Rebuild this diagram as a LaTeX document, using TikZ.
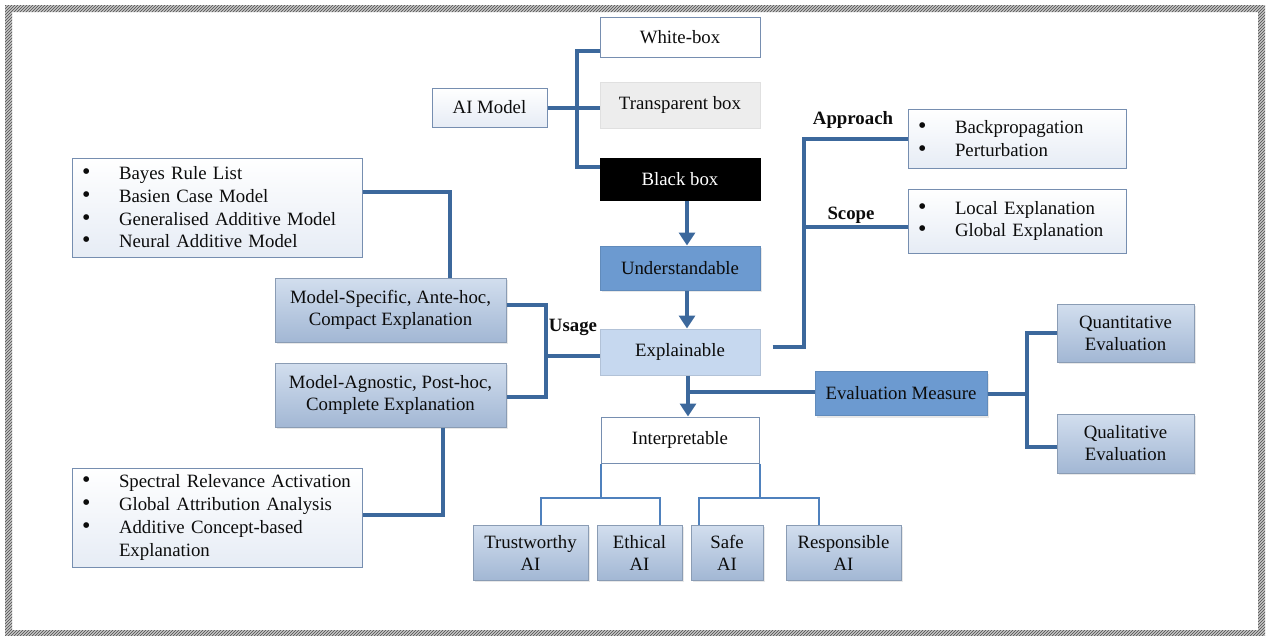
\documentclass[tikz,border=0pt]{standalone}
\usepackage{fontspec}
\setmainfont{Liberation Serif}
\usetikzlibrary{arrows.meta,patterns,shadows}

\definecolor{linkblue}{RGB}{60,104,156}
\definecolor{thinblue}{RGB}{79,129,189}
\definecolor{edgeblue}{RGB}{118,142,176}
\definecolor{steeltop}{RGB}{210,222,238}
\definecolor{steelbot}{RGB}{162,183,212}
\definecolor{midblue}{RGB}{108,154,208}
\definecolor{paleblue}{RGB}{198,216,239}
\definecolor{listbot}{RGB}{230,236,245}
\definecolor{ink}{RGB}{12,12,12}

\newcommand{\bulletline}[1]{\makebox[37pt][l]{\fontsize{24}{22.7}\selectfont\textbullet}#1}
\newcommand{\indentline}[1]{\makebox[37pt][l]{}#1}

\begin{document}
\begin{tikzpicture}[x=1pt,y=-1pt,
  every node/.style={font=\fontsize{18.8}{22.7}\selectfont, text=ink},
  base/.style={rectangle, inner sep=0pt, draw=edgeblue, line width=1pt},
  plainbox/.style={base, fill=white},
  greybox/.style={base, draw=black!12, fill=black!7},
  darkbox/.style={base, draw=black, fill=black, text=white},
  softbox/.style={base, top color=white, bottom color=listbot},
  listbox/.style={softbox, align=left, inner xsep=10pt},
  steelbox/.style={base, draw=steelbot!85!black, top color=steeltop, bottom color=steelbot,
    align=center, font=\fontsize{18.8}{22}\selectfont,
    drop shadow={opacity=0.18, shadow xshift=2pt, shadow yshift=-2pt}},
  bluebox/.style={base, draw=midblue!90!black, fill=midblue,
    drop shadow={opacity=0.18, shadow xshift=2pt, shadow yshift=-2pt}},
  palebox/.style={base, draw=paleblue!90!black, fill=paleblue},
  tag/.style={font=\fontsize{18.8}{22.7}\selectfont\bfseries},
  conn/.style={draw=linkblue, line width=4pt},
  flow/.style={conn, -{Triangle[width=16pt,length=13pt]}},
  twig/.style={draw=thinblue, line width=2pt}]

\useasboundingbox (0,0) rectangle (1266,635);

% hatched frame
\fill[gray!45, even odd rule] (5,5) rectangle (1265,636) (12,12) rectangle (1258,630);
\fill[pattern=north east lines, pattern color=black!70, even odd rule]
  (5,5) rectangle (1265,636) (12,12) rectangle (1258,630);

% model types
\node[softbox, minimum width=115pt, minimum height=39pt] (aimodel) at (489.5,107.5) {AI Model};
\node[plainbox, minimum width=160pt, minimum height=40pt] (white) at (680,37) {White-box};
\node[greybox, minimum width=160pt, minimum height=46pt] (transp) at (680,105) {Transparent box};
\node[darkbox, minimum width=160pt, minimum height=42pt] (black) at (680,179) {Black box};

% main chain
\node[bluebox, minimum width=160pt, minimum height=44pt] (underst) at (680,268) {Understandable};
\node[palebox, minimum width=160pt, minimum height=46pt] (expl) at (680,352) {Explainable};
\node[plainbox, minimum width=158pt, minimum height=46pt] (interp) at (680,440) {Interpretable};

% approach and scope
\node[listbox, minimum width=218pt, minimum height=59pt, text width=198pt] (appbox) at (1017,138.5)
  {\bulletline{Backpropagation}\\\bulletline{Perturbation}};
\node[listbox, minimum width=218pt, minimum height=64pt, text width=198pt] (scopebox) at (1017,221)
  {\bulletline{Local Explanation}\\\bulletline{Global Explanation}};
\node[tag] (approachlbl) at (853,120) {Approach};
\node[tag] (scopelbl) at (851,215) {Scope};

% evaluation
\node[bluebox, minimum width=172pt, minimum height=44pt] (evalm) at (901,393.5) {Evaluation Measure};
\node[steelbox, minimum width=137pt, minimum height=58pt] (quant) at (1125.5,333)
  {Quantitative\\Evaluation};
\node[steelbox, minimum width=137pt, minimum height=59pt] (qual) at (1125.5,443.5)
  {Qualitative\\Evaluation};

% usage branch
\node[listbox, minimum width=290pt, minimum height=99pt, text width=270pt] (bayes) at (217,207.5)
  {\bulletline{Bayes Rule List}\\\bulletline{Basien Case Model}\\
   \bulletline{Generalised Additive Model}\\\bulletline{Neural Additive Model}};
\node[steelbox, minimum width=231pt, minimum height=64pt] (mspec) at (390.5,310)
  {Model-Specific, Ante-hoc,\\Compact Explanation};
\node[steelbox, minimum width=231pt, minimum height=64pt] (magn) at (390.5,395)
  {Model-Agnostic, Post-hoc,\\Complete Explanation};
\node[listbox, minimum width=290pt, minimum height=99pt, text width=270pt] (spectral) at (217,517.5)
  {\bulletline{Spectral Relevance Activation}\\\bulletline{Global Attribution Analysis}\\
   \bulletline{Additive Concept-based}\\\indentline{Explanation}};
\node[tag] (usagelbl) at (573,327) {Usage};

% outcomes
\node[steelbox, minimum width=115pt, minimum height=55pt] (trust) at (530.5,552.5) {Trustworthy\\AI};
\node[steelbox, minimum width=85pt, minimum height=55pt] (ethical) at (639.5,552.5) {Ethical\\AI};
\node[steelbox, minimum width=72pt, minimum height=55pt] (safe) at (727,552.5) {Safe\\AI};
\node[steelbox, minimum width=115pt, minimum height=55pt] (resp) at (843.5,552.5) {Responsible\\AI};

% AI model fan-out
\draw[conn] (aimodel.east) -- (aimodel.east -| transp.west);
\draw[conn] ([yshift=-14pt]white.west) -- ++(-23,0) |- ([yshift=12pt]black.west);

% main chain arrows
\draw[flow] ([xshift=7pt]black.south) -- ([xshift=7pt]underst.north);
\draw[flow] ([xshift=7pt]underst.south) -- ([xshift=7pt]expl.north);
\draw[flow] ([xshift=8pt]expl.south) -- ([xshift=8pt]interp.north);

% approach / scope
\draw[conn] ([xshift=12pt,yshift=5pt]expl.east) -- ++(31,0) |- (appbox.west);
\draw[conn] ([yshift=-6pt]scopebox.west) -- ++(-105,0);

% evaluation
\draw[conn] ([yshift=1.5pt]evalm.west) -- ++(-127,0);
\draw[conn] (evalm.east) -- ++(40,0);
\draw[conn] (quant.west) -- ++(-30,0) |- ([yshift=-3.5pt]qual.west);

% usage
\draw[conn] ([yshift=-4pt]expl.west) -- ++(-55,0);
\draw[conn] ([yshift=5pt]mspec.east) -- ++(39,0) |- ([yshift=-2pt]magn.east);
\draw[conn] ([yshift=15.5pt]bayes.east) -| ([xshift=59.5pt]mspec.north);
\draw[conn] ([xshift=52.5pt]magn.south) |- ([yshift=2.5pt]spectral.east);

% interpretable tree
\draw[twig] (interp.south west) -- ++(0,34) coordinate (jl);
\draw[twig] (interp.south east) -- ++(0,34) coordinate (jr);
\draw[twig] ([xshift=10.5pt]trust.north) |- (jl) -| ([xshift=20.5pt]ethical.north);
\draw[twig] ([xshift=-28pt]safe.north) |- (jr) -| ([xshift=-24.5pt]resp.north);

\end{tikzpicture}
\end{document}
